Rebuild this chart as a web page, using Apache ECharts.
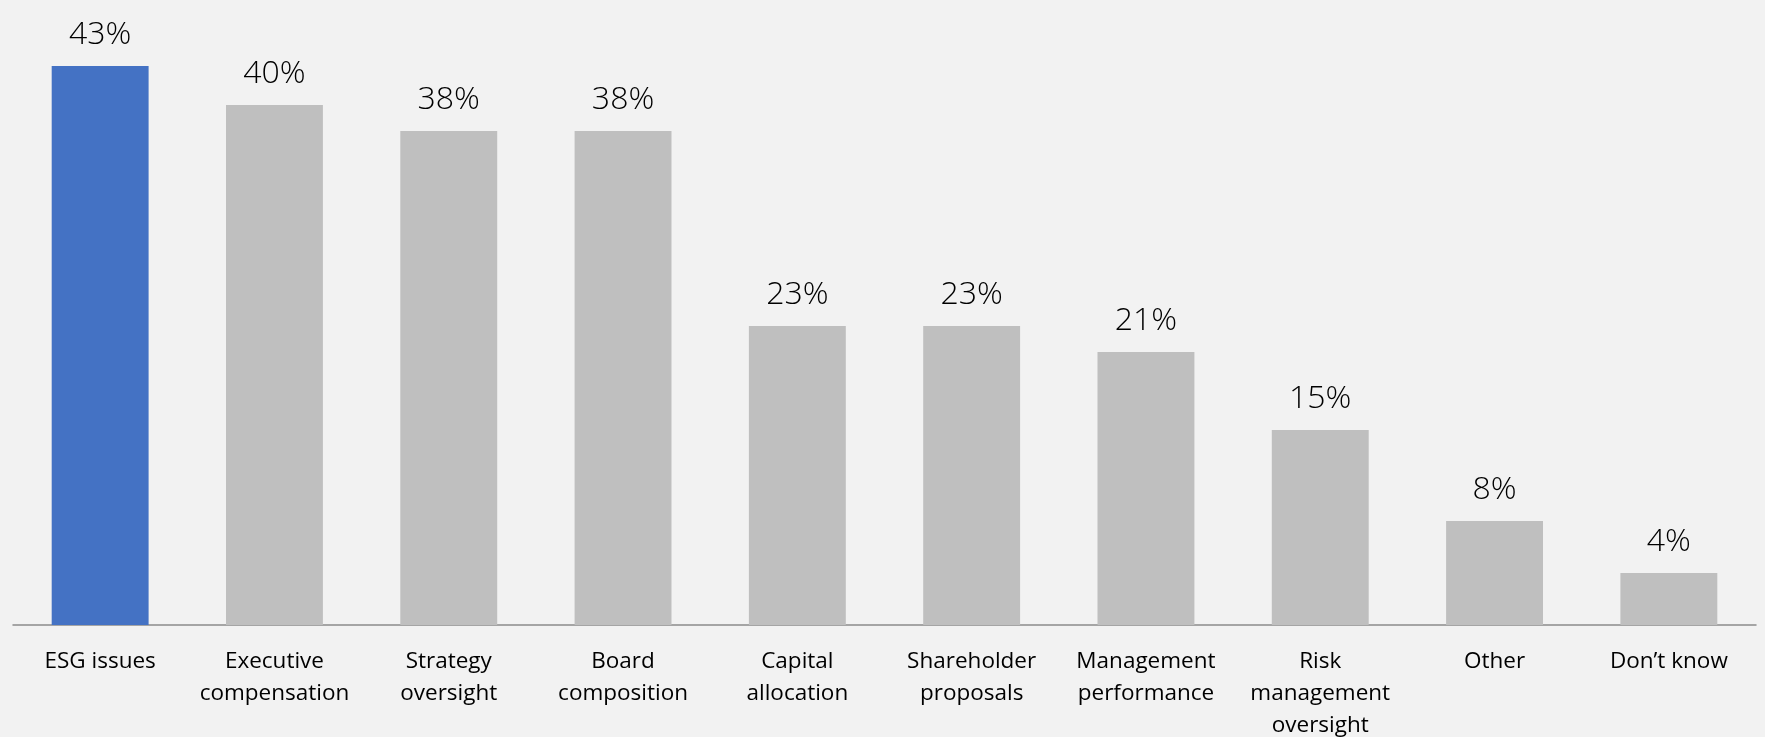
<!DOCTYPE html>
<html>
<head>
<meta charset="utf-8">
<script src="https://cdn.jsdelivr.net/npm/echarts@6/dist/echarts.min.js"></script>
<style>
html,body{margin:0;padding:0;background:#F2F2F2;}
#chart{width:1765px;height:737px;}
</style>
</head>
<body>
<div id="chart"></div>
<script>
const categories = ["ESG issues","Executive\ncompensation","Strategy\noversight","Board\ncomposition","Capital\nallocation","Shareholder\nproposals","Management\nperformance","Risk\nmanagement\noversight","Other","Don\u2019t know"];
const values = [43,40,38,38,23,23,21,15,8,4];
const highlightIndex = 0;

const chart = echarts.init(document.getElementById('chart'));
chart.setOption({
  backgroundColor: '#F2F2F2',
  animation: false,
  grid: {left: 13, right: 9, top: 40, bottom: 112, containLabel: false, outerBoundsMode: 'none'},
  xAxis: {
    type: 'category',
    data: categories,
    axisLine: {lineStyle: {color: '#8C8C8C', width: 1.5}},
    axisTick: {show: false},
    axisLabel: {
      interval: 0,
      margin: 21,
      color: '#000',
      fontFamily: '"Open Sans", "Noto Sans", sans-serif',
      fontSize: 22.5,
      lineHeight: 32
    }
  },
  yAxis: {
    type: 'value',
    min: 0, max: 45,
    show: false,
    splitLine: {show: false}
  },
  series: [{
    type: 'bar',
    barWidth: '55.6%',
    data: values.map((v, i) => ({value: v, itemStyle: {color: i === highlightIndex ? '#4472C4' : '#BFBFBF'}})),
    label: {
      show: true,
      position: 'top',
      distance: 15,
      formatter: '{c}%',
      color: '#000',
      fontFamily: '"Open Sans", "Noto Sans", sans-serif',
      fontWeight: 300,
      fontSize: 32
    }
  }]
});
</script>
</body>
</html>
